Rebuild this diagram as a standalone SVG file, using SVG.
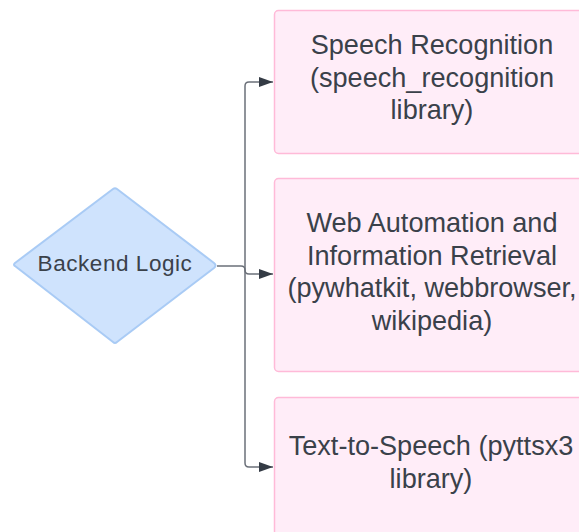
<svg xmlns="http://www.w3.org/2000/svg" width="579" height="532" viewBox="0 0 579 532">
  <defs>
    <marker id="arrow" markerUnits="userSpaceOnUse" markerWidth="16" markerHeight="12" refX="14" refY="5" orient="auto">
      <path d="M0,0 L14,5 L0,10 Z" fill="#343b45"/>
    </marker>
    <style>
      .box { fill: #ffedf8; stroke: #ffbad8; stroke-width: 1.5; }
      .decision { fill: #cfe3fd; stroke: #a9cbf5; stroke-width: 2; stroke-linejoin: round; }
      .label { font-family: "Liberation Sans", Arial, sans-serif; fill: #3a414a; text-anchor: middle; }
      .big { font-size: 27.1px; }
      .small { font-size: 22.5px; letter-spacing: 0.55px; }
      .edge { fill: none; stroke: #6b7079; stroke-width: 1.5; }
    </style>
  </defs>

  <g id="connectors">
    <path class="edge" d="M217,266 H241 Q245,266 245,270 Q245,274 249,274 H273" marker-end="url(#arrow)"/>
    <path class="edge" d="M245,270 V86 Q245,82 249,82 H273" marker-end="url(#arrow)"/>
    <path class="edge" d="M245,270 V463 Q245,467 249,467 H273" marker-end="url(#arrow)"/>
  </g>

  <g id="backend-logic">
    <path class="decision" d="M15,266 Q13,265 15,263 L113,189 Q115,187.5 117,189 L214,263 Q217,265.5 214,268 L117,342 Q115,344 113,342 Z"/>
    <text class="label small" x="115" y="271">Backend Logic</text>
  </g>

  <g id="speech-recognition">
    <rect class="box" x="274.5" y="10.5" width="320" height="143" rx="4"/>
    <text class="label big" x="432" y="54">Speech Recognition</text>
    <text class="label big" x="432" y="86.5">(speech_recognition</text>
    <text class="label big" x="432" y="119">library)</text>
  </g>

  <g id="web-automation">
    <rect class="box" x="274.5" y="178.5" width="320" height="193" rx="4"/>
    <text class="label big" x="432" y="232">Web Automation and</text>
    <text class="label big" x="432" y="264.5">Information Retrieval</text>
    <text class="label big" x="432" y="297">(pywhatkit, webbrowser,</text>
    <text class="label big" x="432" y="329.5">wikipedia)</text>
  </g>

  <g id="text-to-speech">
    <rect class="box" x="274.5" y="397.5" width="320" height="150" rx="4"/>
    <text class="label big" x="431" y="455">Text-to-Speech (pyttsx3</text>
    <text class="label big" x="431" y="488">library)</text>
  </g>
</svg>
